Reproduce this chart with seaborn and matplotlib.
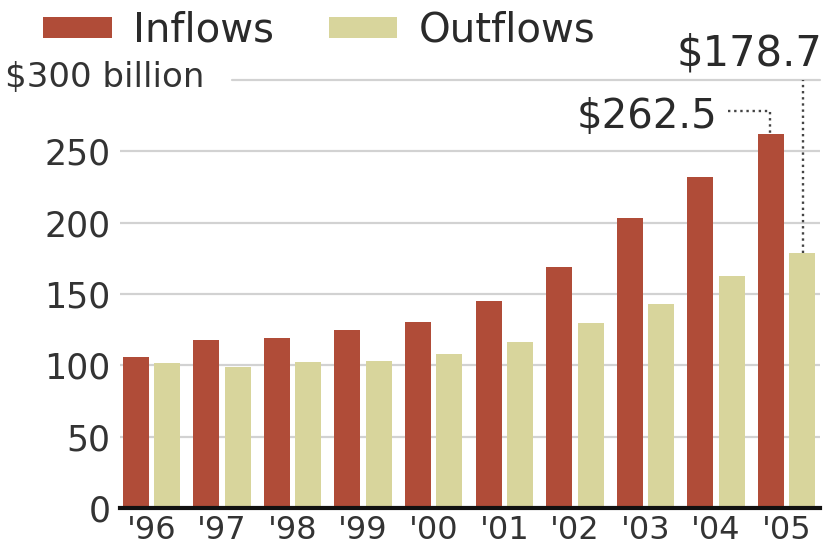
import matplotlib
matplotlib.use("Agg")
import matplotlib.pyplot as plt
import seaborn as sns
import pandas as pd
from matplotlib.patches import Patch

years = ["'96", "'97", "'98", "'99", "'00", "'01", "'02", "'03", "'04", "'05"]
inflows = [106, 118, 119, 125, 130.5, 145, 169, 203.5, 232, 262.5]
outflows = [101.5, 99, 102.5, 103, 108, 116.5, 130, 143, 162.5, 178.7]
series = ["Inflows", "Outflows"]
colors = ["#b04c38", "#d8d59c"]
yticks = [0, 50, 100, 150, 200, 250]

sns.set_style("white")
plt.rcParams["font.family"] = ["DejaVu Sans"]

df = pd.DataFrame({
    "Year": years * 2,
    "Value": inflows + outflows,
    "Flow": [series[0]] * len(years) + [series[1]] * len(years),
})

fig = plt.figure(figsize=(8.29, 5.51), dpi=100)
ax = fig.add_axes([120 / 829, 1 - 508 / 551, 700 / 829, 428 / 551])

sns.barplot(data=df, x="Year", y="Value", hue="Flow", palette=colors,
            width=0.89, gap=0.17, saturation=1, legend=False, ax=ax, zorder=3,
            linewidth=0, edgecolor="none")

ax.set_xlim(-0.446, 9.474)
ax.set_ylim(0, 300)
ax.set_yticks(yticks)
ax.set_yticklabels([str(v) for v in yticks], fontsize=25, color="#333333")
ax.tick_params(axis="y", length=0, pad=7)
ax.tick_params(axis="x", length=0, pad=5, labelsize=23, labelcolor="#333333")
ax.set_xlabel("")
ax.set_ylabel("")
for v in yticks[1:]:
    ax.axhline(v, color="#d2d2d2", lw=1.6, zorder=1)
ax.axhline(300, xmin=0.16, xmax=1, color="#d2d2d2", lw=1.6, zorder=1, clip_on=False)
for s in ["top", "right", "left"]:
    ax.spines[s].set_visible(False)
ax.spines["bottom"].set_color("#111111")
ax.spines["bottom"].set_linewidth(3)
ax.spines["bottom"].set_zorder(5)

fig.text(5 / 829, 1 - 77 / 551, "$300 billion", fontsize=24.5, color="#333333",
         ha="left", va="center")

# annotations
n = len(years)
x_in = (n - 1) - 0.234
x_out = (n - 1) + 0.226
dot = (0, (1, 1.6))
ax.plot([8.17, x_in, x_in], [278, 278, inflows[-1]], color="#444444", lw=1.7,
        linestyle=dot, clip_on=False, zorder=4)
ax.text(8.015, 266.3, "$" + f"{inflows[-1]:.1f}", fontsize=29, color="#2a2a2a",
        ha="right", va="baseline")
ax.plot([x_out, x_out], [outflows[-1], 300], color="#444444", lw=1.7,
        linestyle=dot, clip_on=False, zorder=4)
fig.text(822 / 829, 1 - 65 / 551, "$" + f"{outflows[-1]:.1f}", fontsize=30,
         color="#2a2a2a", ha="right", va="baseline")

handles = [Patch(facecolor=c, edgecolor="none") for c in colors]
fig.legend(handles, series, loc="center left", bbox_to_anchor=(43 / 829, 1 - 31 / 551),
           ncol=2, frameon=False, fontsize=29, handlelength=1.71, handleheight=0.4,
           handletextpad=0.52, columnspacing=1.36, borderpad=0, borderaxespad=0,
           labelcolor="#2a2a2a")

fig.savefig("out.png", dpi=100)
